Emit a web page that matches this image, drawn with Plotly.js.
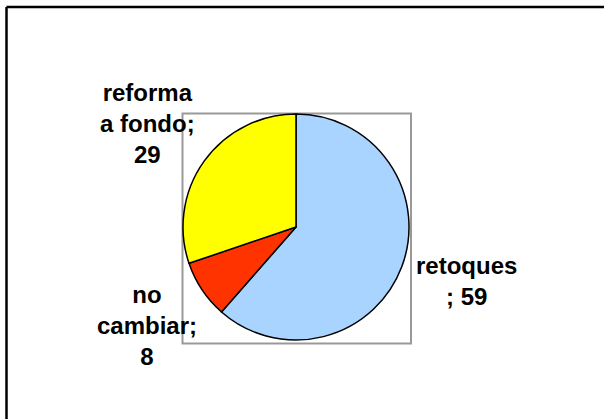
<!DOCTYPE html>
<html>
<head>
<meta charset="utf-8">
<script src="https://cdn.plot.ly/plotly-3.0.1.min.js"></script>
<style>html,body{margin:0;padding:0;background:#fff;}#chart{width:604px;height:419px;}</style>
</head>
<body>
<div id="chart"></div>
<script>
var categories = ["retoques", "no cambiar", "reforma a fondo"];
var values = [59, 8, 29];
var colors = ["#A8D4FF", "#FF3300", "#FFFF00"];
var labelTexts = ["retoques<br>; 59", "no<br>cambiar;<br>8", "reforma<br>a fondo;<br>29"];
var labelPos = [[466, 281], [147, 325], [147, 123]];

var W = 604, H = 419;
var cx = 296, cy = 227, r = 113;

var trace = {
  type: "pie",
  labels: categories,
  values: values,
  sort: false,
  direction: "clockwise",
  rotation: 0,
  textinfo: "none",
  hoverinfo: "label+value",
  marker: {colors: colors, line: {color: "#000000", width: 1.5}},
  domain: {x: [(cx - r) / W, (cx + r) / W], y: [(H - cy - r) / H, (H - cy + r) / H]},
  showlegend: false
};

var annotations = labelTexts.map(function (t, i) {
  return {
    text: t, xref: "paper", yref: "paper",
    x: labelPos[i][0] / W, y: 1 - labelPos[i][1] / H,
    xanchor: "center", yanchor: "middle", align: "center",
    showarrow: false,
    font: {family: "Liberation Sans, Arial, sans-serif", size: 24, color: "#000", weight: "bold"}
  };
});

var layout = {
  width: W, height: H,
  margin: {l: 0, r: 0, t: 0, b: 0},
  paper_bgcolor: "#ffffff",
  plot_bgcolor: "#ffffff",
  annotations: annotations,
  shapes: [
    {type: "rect", xref: "paper", yref: "paper", x0: 182.5 / W, x1: 411 / W, y0: 1 - 343.5 / H, y1: 1 - 113.5 / H, line: {color: "#999999", width: 2}, layer: "below"},
    {type: "line", xref: "paper", yref: "paper", x0: 6.5 / W, x1: 1, y0: 1 - 7 / H, y1: 1 - 7 / H, line: {color: "#000", width: 2.5}},
    {type: "line", xref: "paper", yref: "paper", x0: 6.5 / W, x1: 6.5 / W, y0: 0, y1: 1 - 7 / H, line: {color: "#000", width: 2.5}}
  ]
};

Plotly.newPlot("chart", [trace], layout, {displayModeBar: false, staticPlot: true});
</script>
</body>
</html>
